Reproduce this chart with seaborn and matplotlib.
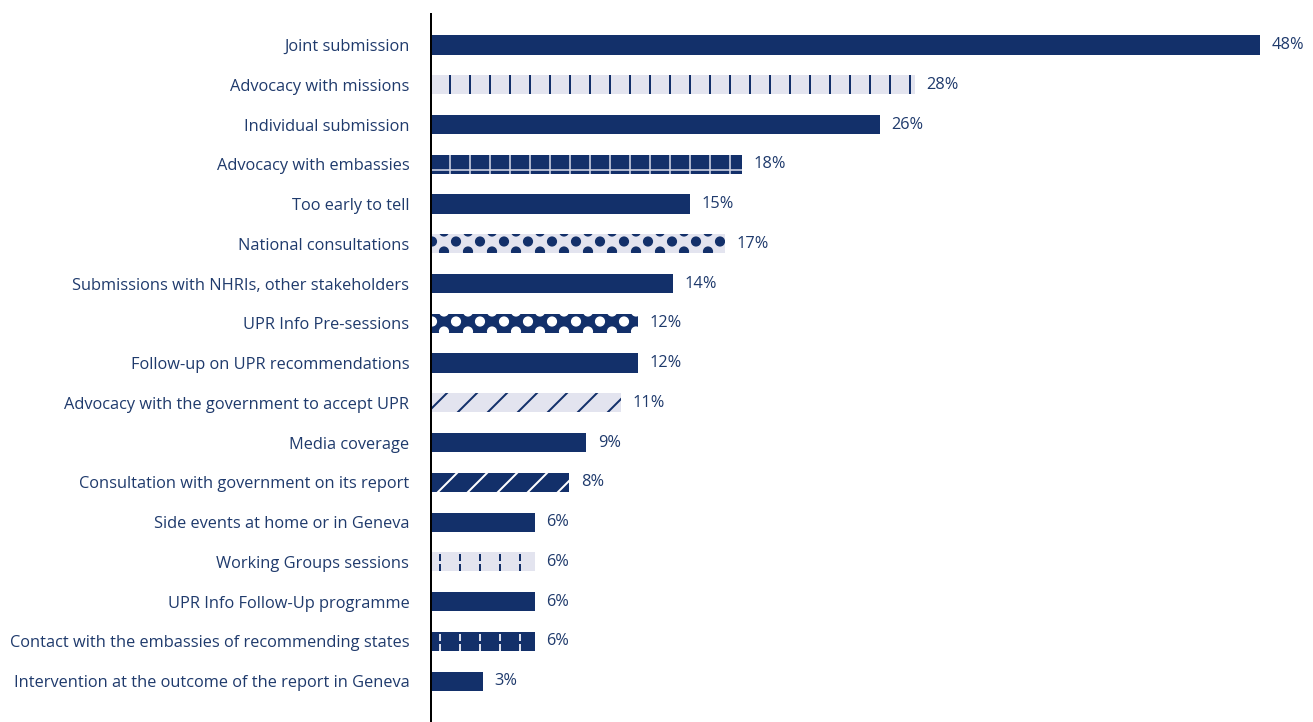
import matplotlib
matplotlib.use("Agg")
import matplotlib.pyplot as plt
import matplotlib.hatch as mhatch
from matplotlib.path import Path
import numpy as np
import pandas as pd
import seaborn as sns

# data
activities = [
    "Joint submission",
    "Advocacy with missions",
    "Individual submission",
    "Advocacy with embassies",
    "Too early to tell",
    "National consultations",
    "Submissions with NHRIs, other stakeholders",
    "UPR Info Pre-sessions",
    "Follow-up on UPR recommendations",
    "Advocacy with the government to accept UPR",
    "Media coverage",
    "Consultation with government on its report",
    "Side events at home or in Geneva",
    "Working Groups sessions",
    "UPR Info Follow-Up programme",
    "Contact with the embassies of recommending states",
    "Intervention at the outcome of the report in Geneva",
]
shares = [48, 28, 26, 18, 15, 17, 14, 12, 12, 11, 9, 8, 6, 6, 6, 6, 3]

NAVY = "#13306a"
LIGHT = "#e3e4ef"
TEXT = "#1f3a6c"

# fill, hatch, hatch colour per bar
styles = [
    (NAVY, "", NAVY),
    (LIGHT, "|", NAVY),
    (NAVY, "", NAVY),
    (NAVY, "+", "#c9cee0"),
    (NAVY, "", NAVY),
    (LIGHT, ".", NAVY),
    (NAVY, "", NAVY),
    (NAVY, ".", "white"),
    (NAVY, "", NAVY),
    (LIGHT, "/", NAVY),
    (NAVY, "", NAVY),
    (NAVY, "/", "white"),
    (NAVY, "", NAVY),
    (LIGHT, "*", NAVY),
    (NAVY, "", NAVY),
    (NAVY, "*", "#dfe3ef"),
    (NAVY, "", NAVY),
]


# custom hatch tiles (one tile = 1 inch), closer to the report's patterns
class TileHatch(mhatch.HatchPatternBase):
    char = None

    def __init__(self, hatch, density):
        self.path = self.make_path() if self.char in hatch else None
        self.num_vertices = 0 if self.path is None else len(self.path.vertices)

    def set_vertices_and_codes(self, vertices, codes):
        vertices[:] = self.path.vertices
        codes[:] = self.path.codes


class ZigzagDots(TileHatch):
    """'.' : two staggered rows of filled dots"""
    char = "."

    def make_path(self):
        circle = Path.unit_circle()
        parts = []
        for row in range(-1, 14):
            y = row / 12 - 0.0125
            if not -0.1 <= y <= 1.1:
                continue
            shift = 0.5 if row % 2 else 0.0
            for col in range(-1, 7):
                x = (col + shift) / 5
                if -0.1 <= x <= 1.1:
                    parts.append(Path(circle.vertices * 0.034 + [x, y],
                                      circle.codes))
        return Path.make_compound_path(*parts)


class DashedVertical(TileHatch):
    """'*' : dashed vertical lines"""
    char = "*"

    def make_path(self):
        verts, codes = [], []
        for x in np.arange(7) / 6:
            for y in np.arange(12) / 12:
                verts += [(x, y), (x, y + 1 / 24)]
                codes += [Path.MOVETO, Path.LINETO]
        return Path(verts, codes)


class WideDiagonal(TileHatch):
    """'/' : north-east diagonals, 4 per tile"""
    char = "/"

    def make_path(self):
        verts, codes = [], []
        for c in np.arange(-4, 5) / 4:
            verts += [(c, 0), (1 + c, 1)]
            codes += [Path.MOVETO, Path.LINETO]
        return Path(verts, codes)


mhatch._hatch_types = [t for t in mhatch._hatch_types
                       if t not in (mhatch.SmallFilledCircles, mhatch.Stars,
                                    mhatch.NorthEastHatch)]
mhatch._hatch_types += [ZigzagDots, DashedVertical, WideDiagonal]

df = pd.DataFrame({"activity": activities, "share": shares})

sns.set_style("white")
plt.rcParams["font.family"] = ["Open Sans", "DejaVu Sans"]
plt.rcParams["hatch.linewidth"] = 1.2

fig = plt.figure(figsize=(1313 / 120, 722 / 120), dpi=120)
ax = fig.add_axes([431 / 1313, 0, 1 - 431 / 1313, 1 - 14 / 722])

sns.barplot(data=df, x="share", y="activity", orient="h", color=NAVY,
            width=0.48, saturation=1, ax=ax)

for patch, (fill, hatch, hcol) in zip(ax.patches, styles):
    patch.set_facecolor(fill)
    patch.set_edgecolor(hcol)
    patch.set_linewidth(0)
    if hatch:
        patch.set_hatch(hatch)
        if hasattr(patch, "set_hatch_linewidth"):
            patch.set_hatch_linewidth(1.0 if hatch == "+" else 1.2)

ax.bar_label(ax.containers[0], labels=[f"{v}%" for v in shares],
             padding=7, color=TEXT, fontsize=9.8)

ax.set_xlim(0, 51.07)
ax.set_ylim(len(activities) - 1 + 1.03, -0.78)
ax.set_xlabel("")
ax.set_ylabel("")
ax.set_xticks([])
ax.tick_params(axis="y", length=0, pad=13, labelsize=9.8, labelcolor=TEXT)
for side in ["top", "right", "bottom"]:
    ax.spines[side].set_visible(False)
ax.spines["left"].set_color("black")
ax.spines["left"].set_linewidth(1.2)

fig.savefig("out.png", dpi=120)
